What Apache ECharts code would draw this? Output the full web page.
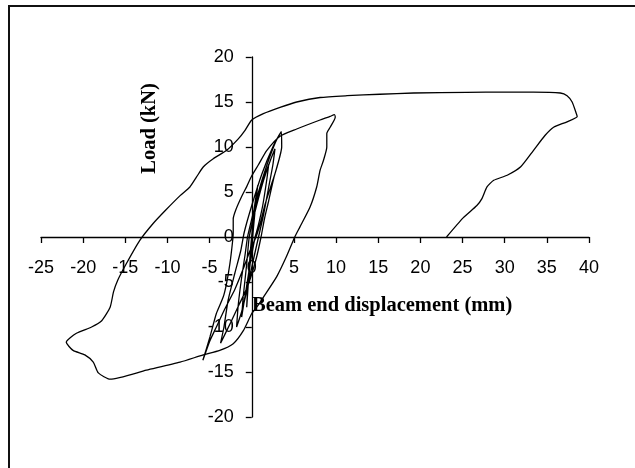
<!DOCTYPE html>
<html>
<head>
<meta charset="utf-8">
<script src="https://cdn.jsdelivr.net/npm/echarts@6/dist/echarts.min.js"></script>
<style>
html,body{margin:0;padding:0;background:#fff;}
#chart{width:635px;height:468px;}
</style>
</head>
<body>
<div id="chart"></div>
<script>
// Tick values
var xTicks = [-25,-20,-15,-10,-5,0,5,10,15,20,25,30,35,40];
var yTicks = [-20,-15,-10,-5,0,5,10,15,20];

// Small cycles around the origin (displacement mm, load kN)
var innerX = [0,0.2,0.5,0.7,0.5,0.3,0.1,-0.2,-0.5,-0.6,-0.4,-0.2,0.1,0.7,1.4,2.0,1.8,1.3,0.7,0.4,-0.2,-0.7,-1.2,-1.0,-0.6,-0.3,0.3,1.3,2.2,2.75,2.5,2.0,1.4,0.8,0.2,-0.6,-1.2,-1.8,-1.6,-1.2,-0.8,-0.5,0,0.8,1.8,2.8,3.5,3.55,3.2,2.6,2.0,1.5,1.1,0.5,-0.5,-1.5,-2.5,-3.7,-3.3,-2.8,-2.0,-1.3,-0.9,0,1.2,2.5,3.5];
var innerY = [0,2.5,4.5,5.7,4.0,2.0,0,-3.0,-6.0,-7.8,-5.0,-2.0,1.0,4.5,6.5,8.0,6.5,3.5,1.0,0,-3.0,-6.0,-8.9,-6.5,-3.0,0,2.5,6.0,8.5,9.8,8.0,5.5,2.5,0,-2.5,-6.0,-8.3,-10.0,-7.5,-4.5,-2.0,0,2.0,5.0,8.0,10.5,11.7,10.0,8.5,6.5,4.0,2.0,0,-2.5,-5.5,-7.5,-9.5,-11.8,-10.0,-7.0,-4.0,-1.5,0.5,3.5,7.0,10.0,11.7];

// Unloading from +4 mm to the -6 mm peak, then reloading to the +10 mm peak
var cycle6X = [3.55,3.0,2.5,1.6,1.0,0.5,-0.2,-1.0,-2.0,-3.2,-4.3,-5.0,-5.8,-4.96,-4.2,-3.4,-3.0,-2.6,-2.3,-2.2,-2.2,-1.9,-1.2,-0.6,0.0,0.77,1.77,3.35,5.33,8.1,9.3,9.8];
var cycle6Y = [10.0,7.8,6.3,3.7,1.5,0,-1.5,-3.5,-5.8,-8.0,-10.2,-11.6,-13.7,-11.1,-8.5,-6.7,-5.2,-3.0,-0.7,0.5,2.0,3.0,4.5,5.6,6.8,8.0,9.6,11.2,12.0,13.0,13.4,13.6];

// Unloading from +10 mm to the -22 mm peak
var cycle22X = [9.9,9.3,8.9,8.9,8.5,8.1,7.7,6.9,5.7,5.1,4.1,2.96,1.37,0.58,0,-1.0,-2.2,-3.8,-5.76,-8.5,-12.5,-16.8,-18.2,-18.8,-19.8,-21.2,-22.0];
var cycle22Y = [13.3,12.2,11.5,10.0,8.5,7.4,5.56,3.3,1.1,0,-2.2,-4.4,-6.7,-7.8,-8.5,-10.4,-11.85,-12.6,-13.1,-13.9,-14.8,-15.8,-15.1,-13.9,-13.1,-12.6,-11.7];

// Final reloading to +38 mm and unloading
var finalX = [-20.8,-19.0,-17.8,-16.8,-16.4,-15.9,-14.9,-13.3,-11.7,-10.2,-8.5,-7.34,-6.55,-5.76,-4.57,-2.98,-1.6,-0.8,0,1.37,3.35,5.33,8.1,11.3,15.2,19.2,25.5,30.0,33.4,36.6,37.4,38.0,38.5,38.6,37.4,35.8,34.8,33.4,31.9,30.3,28.7,27.9,27.3,26.7,25.1,23.1];
var finalY = [-10.7,-10.0,-9.3,-7.8,-6.1,-4.8,-3.0,-0.4,1.5,3.0,4.6,5.56,6.67,7.78,8.7,9.63,10.9,11.85,13.0,13.7,14.4,15.0,15.5,15.7,15.86,16.0,16.08,16.1,16.1,16.0,15.7,15.0,13.7,13.4,12.8,12.2,11.3,9.6,7.8,6.86,6.3,5.56,4.26,3.5,2.15,0];

var allX = innerX.concat(cycle6X, cycle22X, finalX);
var allY = innerY.concat(cycle6Y, cycle22Y, finalY);
var pts = allX.map(function (x, i) { return [x, allY[i]]; });

var G = {left: 41, top: 57, width: 548, height: 360};
var xMin = xTicks[0], xMax = xTicks[xTicks.length - 1];
var yMin = yTicks[0], yMax = yTicks[yTicks.length - 1];
// shift axes so they cross at the origin
var yAxisOffset = -G.width * (0 - xMin) / (xMax - xMin);
var xAxisOffset = -G.height * (0 - yMin) / (yMax - yMin);

var chart = echarts.init(document.getElementById('chart'), null, {renderer: 'canvas'});
var labelFont = {fontFamily: '"Liberation Sans", Arial, sans-serif', fontSize: 18, color: '#000'};
chart.setOption({
  animation: false,
  backgroundColor: '#fff',
  grid: {left: G.left, top: G.top, width: G.width, height: G.height, containLabel: false, outerBoundsMode: 'none'},
  xAxis: {
    type: 'value', min: xMin, max: xMax, interval: 5,
    position: 'bottom', offset: xAxisOffset,
    axisLine: {onZero: false, lineStyle: {color: '#000', width: 1.3}},
    axisTick: {show: true, length: 6, lineStyle: {color: '#000', width: 1.3}},
    axisLabel: Object.assign({margin: 22}, labelFont),
    splitLine: {show: false}
  },
  yAxis: {
    type: 'value', min: yMin, max: yMax, interval: 5,
    position: 'left', offset: yAxisOffset,
    axisLine: {onZero: false, lineStyle: {color: '#000', width: 1.3}},
    axisTick: {show: true, length: 6, lineStyle: {color: '#000', width: 1.3}},
    axisLabel: Object.assign({margin: 18}, labelFont),
    splitLine: {show: false}
  },
  series: [{
    type: 'line',
    data: pts,
    showSymbol: false,
    smooth: 0.2,
    lineStyle: {color: '#000', width: 1.3},
    z: 3
  }],
  graphic: [
    {type: 'rect', shape: {x: 9, y: 6, width: 800, height: 700}, style: {fill: null, stroke: '#111', lineWidth: 2}, silent: true},
    {type: 'text', x: 150, y: 128.5, rotation: Math.PI / 2, style: {text: 'Load (kN)', align: 'center', verticalAlign: 'middle', font: 'bold 20.5px "Liberation Serif", "Times New Roman", serif', fill: '#000'}, z: 10},
    {type: 'text', x: 252, y: 306, style: {text: 'Beam end displacement (mm)', align: 'left', verticalAlign: 'middle', font: 'bold 20.5px "Liberation Serif", "Times New Roman", serif', fill: '#000'}, z: 10}
  ]
});
</script>
</body>
</html>
